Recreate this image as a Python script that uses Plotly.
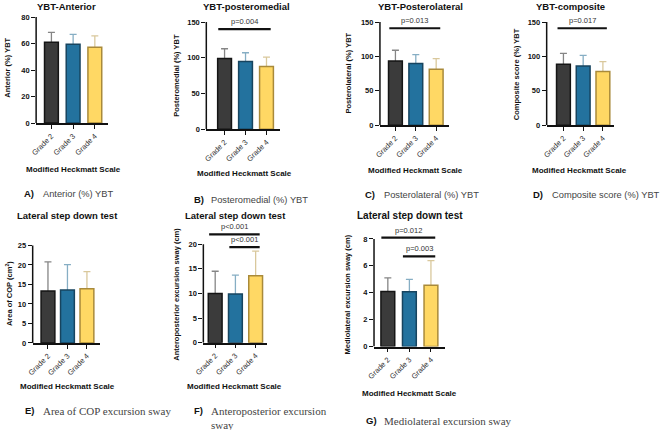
import plotly.graph_objects as go

W, H = 669, 430

grades = ['Grade 2', 'Grade 3', 'Grade 4']
fills = ['#3b3b3b', '#23729e', '#ffd864']
edges = ['#151515', '#17445f', '#a98a3a']
err_colors = ['#858585', '#86aec4', '#d9c89c']

# bar heights (mean) and upper error (SD)
anterior_mean = [61.0, 59.5, 57.3]
anterior_sd = [7.5, 7.4, 8.5]
posteromedial_mean = [98.8, 94.6, 87.7]
posteromedial_sd = [13.8, 12.4, 13.3]
posterolateral_mean = [93.4, 89.6, 81.5]
posterolateral_sd = [15.6, 12.9, 15.3]
composite_mean = [88.6, 86.2, 78.1]
composite_sd = [15.9, 15.4, 14.4]
cop_area_mean = [13.3, 13.6, 13.9]
cop_area_sd = [7.5, 6.5, 4.4]
ap_sway_mean = [10.0, 9.9, 13.6]
ap_sway_sd = [4.5, 3.8, 5.0]
ml_sway_mean = [4.1, 4.08, 4.55]
ml_sway_sd = [1.0, 0.91, 1.83]

# significance brackets: (group a, group b, height, label)
posteromedial_sig = [(0, 2, 140, 'p=0.004')]
posterolateral_sig = [(0, 2, 141, 'p=0.013')]
composite_sig = [(0, 2, 141, 'p=0.017')]
ap_sway_sig = [(0, 2, 22.0, 'p<0.001'), (1, 2, 19.4, 'p<0.001')]
ml_sway_sig = [(0, 2, 8.1, 'p=0.012'), (1, 2, 6.7, 'p=0.003')]

SANS = 'Liberation Sans, Arial, sans-serif'
SERIF = 'Liberation Serif, Times New Roman, serif'

panels = [
    dict(mean=anterior_mean, sd=anterior_sd, sig=[], ymax=80, dtick=20,
         title='YBT-Anterior', ytitle='Anterior (%) YBT',
         letter='A)', caption='Anterior (%) YBT', serif=False,
         box=(27.5, 100, 43, 87, 17.3, 124.5),
         tpos=(58, 7), ytpos=(5, 68.5), xtpos=(65, 171), cpos=(13, 196, 32)),
    dict(mean=posteromedial_mean, sd=posteromedial_sd, sig=posteromedial_sig, ymax=150, dtick=50,
         title='YBT-posteromedial', ytitle='Posteromedial (%) YBT',
         letter='B)', caption='Posteromedial (%) YBT', serif=False,
         box=(200, 275, 218.5, 261, 22.3, 130.7),
         tpos=(241, 7), ytpos=(175, 76), xtpos=(238.5, 176), cpos=(185, 202, 203)),
    dict(mean=posterolateral_mean, sd=posterolateral_sd, sig=posterolateral_sig, ymax=150, dtick=50,
         title='YBT-Posterolateral', ytitle='Posterolateral (%) YBT',
         letter='C)', caption='Posterolateral (%) YBT', serif=False,
         box=(376, 446, 391.7, 433, 22.3, 126.7),
         tpos=(417, 7), ytpos=(350, 74), xtpos=(412, 172), cpos=(359, 197, 378)),
    dict(mean=composite_mean, sd=composite_sd, sig=composite_sig, ymax=150, dtick=50,
         title='YBT-composite', ytitle='Composite score (%) YBT',
         letter='D)', caption='Composite score (%) YBT', serif=False,
         box=(545, 613, 562, 602, 22.3, 126.7),
         tpos=(569, 7), ytpos=(520, 75), xtpos=(578, 172), cpos=(529, 197, 548)),
    dict(mean=cop_area_mean, sd=cop_area_sd, sig=[], ymax=25, dtick=5,
         title='Lateral step down test', ytitle='Area of COP (cm<sup>2</sup>)',
         letter='E)', caption='Area of COP excursion sway', serif=True,
         box=(24, 92, 39.5, 79, 248.3, 347),
         tpos=(59, 218), ytpos=(5.5, 297), xtpos=(59, 391), cpos=(14, 415, 32)),
    dict(mean=ap_sway_mean, sd=ap_sway_sd, sig=ap_sway_sig, ymax=20, dtick=5,
         title='Lateral step down test', ytitle='Anteroposterior excursion sway (cm)',
         letter='F)', caption='Anteroposterior excursion<br>sway', serif=True,
         box=(197, 262, 209, 250, 247, 346.7),
         tpos=(229.5, 218), ytpos=(175, 297.5), xtpos=(229, 391), cpos=(185, 415, 203)),
    dict(mean=ml_sway_mean, sd=ml_sway_sd, sig=ml_sway_sig, ymax=8, dtick=2,
         title='Lateral step down test', ytitle='Mediolateral excursion sway (cm)',
         letter='G)', caption='Mediolateral excursion sway', serif=True,
         box=(370, 442, 384, 427.7, 241.7, 350.7),
         tpos=(406.5, 218), ytpos=(349, 297.5), xtpos=(405.5, 398), cpos=(360, 425, 378)),
]

# rotated annotations land a few px right of their anchor, pull them back
YTITLE_NUDGE = -6


def px(x):
    return x / W


def py(y):
    return 1 - y / H


fig = go.Figure()
annotations = []
shapes = []

for k, p in enumerate(panels, start=1):
    sfx = '' if k == 1 else str(k)
    xa, xb, c0, c2, ytop, ybot = p['box']
    unit = (c2 - c0) / 2
    bw = 14 / unit
    xr = [-(c0 - xa) / unit, 2 + (xb - c2) / unit]
    top_val = max([p['ymax']] + [s[2] for s in p['sig']]) * 1.04
    top_px = ybot - (ybot - ytop) * top_val / p['ymax']

    for i in range(3):
        # error bar drawn first, bar drawn on top so only the upper half shows
        fig.add_trace(go.Bar(
            x=[i], y=[p['mean'][i]], width=bw, xaxis='x' + sfx, yaxis='y' + sfx,
            marker=dict(color='rgba(0,0,0,0)', line=dict(width=0)),
            error_y=dict(type='data', array=[p['sd'][i]], color=err_colors[i],
                         thickness=1.3, width=3.5),
            showlegend=False, hoverinfo='skip'))
        fig.add_trace(go.Bar(
            x=[i], y=[p['mean'][i]], width=bw, xaxis='x' + sfx, yaxis='y' + sfx,
            marker=dict(color=fills[i], line=dict(color=edges[i], width=1.5)),
            showlegend=False, name=grades[i]))

    fig.layout['xaxis' + sfx] = dict(
        domain=[px(xa), px(xb)], range=xr, anchor='y' + sfx,
        tickvals=[0, 1, 2], ticktext=grades, tickangle=-45,
        ticks='outside', ticklen=4, tickwidth=1.3, tickcolor='#111',
        showline=True, linecolor='#111', linewidth=1.5,
        showgrid=False, zeroline=False,
        tickfont=dict(family=SANS, size=7.5, color='#333'))
    tv = [v * p['dtick'] for v in range(int(p['ymax'] / p['dtick']) + 1)]
    fig.layout['yaxis' + sfx] = dict(
        domain=[py(ybot), py(top_px)], range=[0, top_val], anchor='x' + sfx,
        tickvals=tv, ticktext=['<b>%g</b>' % v for v in tv],
        ticks='outside', ticklen=4, tickwidth=1.3, tickcolor='#111',
        showline=False, showgrid=False, zeroline=False,
        tickfont=dict(family=SANS, size=7.5, color='#111'))

    # y axis line stops at the top tick
    shapes.append(dict(type='line', xref='x' + sfx + ' domain', yref='y' + sfx,
                       x0=0, x1=0, y0=0, y1=p['ymax'],
                       line=dict(color='#111', width=1.5)))

    for a, b, h, lab in p['sig']:
        shapes.append(dict(type='line', xref='x' + sfx, yref='y' + sfx,
                           x0=a - 0.3, x1=b + 0.2, y0=h, y1=h,
                           line=dict(color='#111', width=2.2)))
        annotations.append(dict(xref='x' + sfx, yref='y' + sfx, x=(a + b) / 2 - 0.05, y=h,
                                text=lab, showarrow=False, yanchor='bottom', yshift=1,
                                font=dict(family=SANS, size=7.5, color='#333')))

    tsize = 10 if k == 7 else 9.5
    annotations.append(dict(xref='paper', yref='paper', x=px(p['tpos'][0]), y=py(p['tpos'][1]),
                            text='<b>%s</b>' % p['title'], showarrow=False,
                            xanchor='center', yanchor='middle',
                            font=dict(family=SANS, size=tsize, color='#111')))
    annotations.append(dict(xref='paper', yref='paper',
                            x=px(p['ytpos'][0] + YTITLE_NUDGE), y=py(p['ytpos'][1]),
                            text='<b>%s</b>' % p['ytitle'], showarrow=False, textangle=-90,
                            xanchor='center', yanchor='middle',
                            font=dict(family=SANS, size=7.5, color='#111')))
    annotations.append(dict(xref='paper', yref='paper', x=px(p['xtpos'][0]), y=py(p['xtpos'][1]),
                            text='<b>Modified Heckmatt Scale</b>', showarrow=False,
                            xanchor='center', yanchor='middle',
                            font=dict(family=SANS, size=8, color='#111')))

    lx, ly, tx = p['cpos']
    annotations.append(dict(xref='paper', yref='paper', x=px(lx), y=py(ly),
                            text='<b>%s</b>' % p['letter'], showarrow=False,
                            xanchor='left', yanchor='middle',
                            font=dict(family=SANS, size=9.5, color='#111')))
    annotations.append(dict(xref='paper', yref='paper', x=px(tx), y=py(ly),
                            text=p['caption'], showarrow=False, align='left',
                            xanchor='left', yanchor='top', yshift=7,
                            font=dict(family=SERIF if p['serif'] else SANS,
                                      size=11 if p['serif'] else 9.3, color='#444')))

fig.update_layout(width=W, height=H, margin=dict(l=0, r=0, t=0, b=0),
                  barmode='overlay', plot_bgcolor='white', paper_bgcolor='white',
                  annotations=annotations, shapes=shapes)

# the default page keeps an 8px body margin; drop it so the figure fills the window
fig.write_html("out.html", config={'displayModeBar': False},
               post_script="document.body.style.margin = '0px';")
